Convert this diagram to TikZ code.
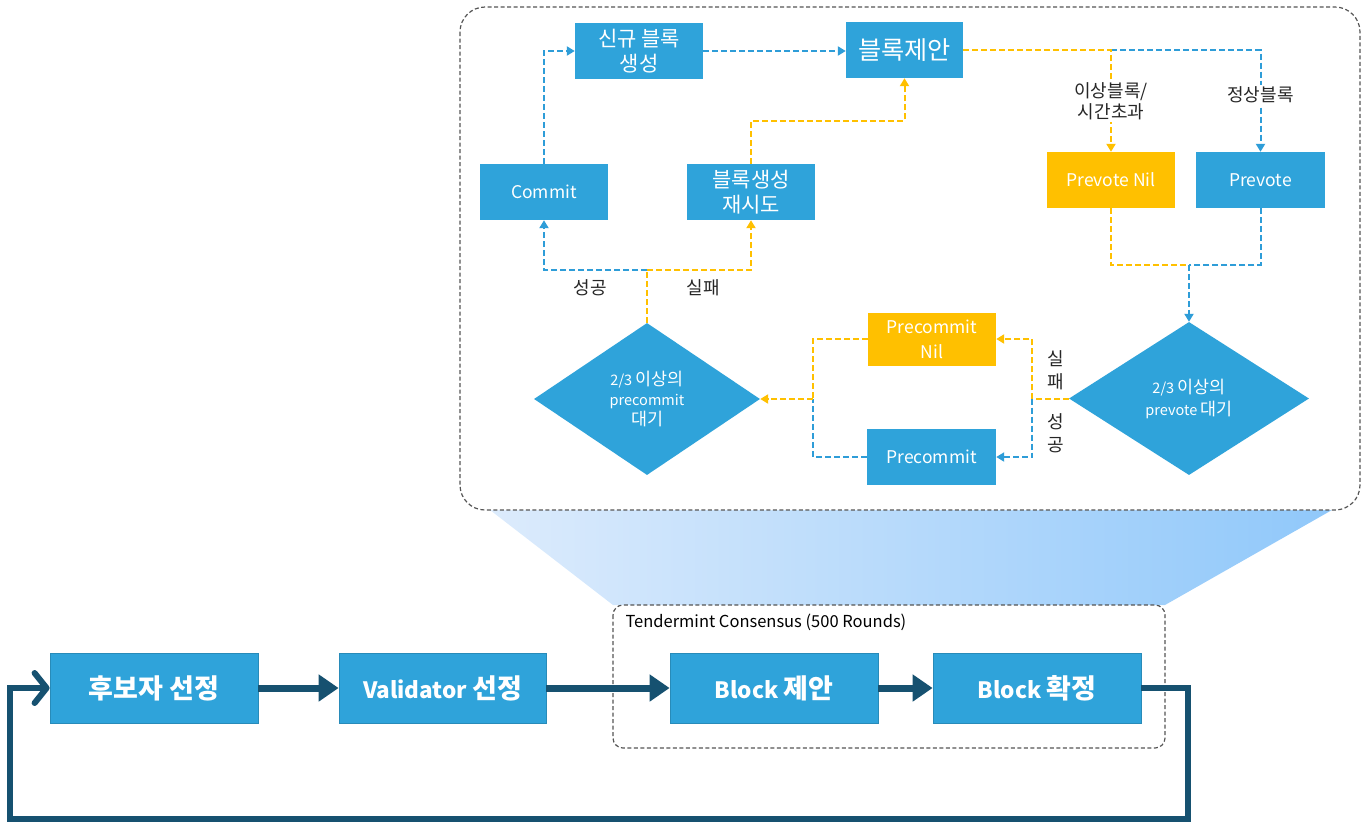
\documentclass[tikz,border=0pt]{standalone}
\usepackage{fontspec}
\setmainfont{Noto Sans CJK KR}
\newfontfamily\krf[Scale=1.2]{Noto Sans CJK KR}
\newcommand\K[1]{{\krf #1}}
\usetikzlibrary{arrows.meta,shapes.geometric,calc}
\definecolor{cblue}{RGB}{47,163,218}
\definecolor{cline}{RGB}{46,157,216}
\definecolor{cyel}{RGB}{255,192,0}
\definecolor{cdark}{RGB}{22,81,112}
\definecolor{cgray}{RGB}{85,85,85}
\definecolor{fanL}{RGB}{220,235,252}
\definecolor{fanR}{RGB}{144,200,250}
\tikzset{
  box/.style={fill=cblue, text=white, minimum width=128pt, minimum height=56pt, inner sep=0pt, align=center, font=\fontsize{17.5}{25}\selectfont},
  ybox/.style={box, fill=cyel},
  bigbox/.style={fill=cblue, draw=cblue!85!black, line width=0.8pt, text=white, minimum width=208pt, minimum height=70pt, inner sep=0pt, align=center, font=\bfseries\fontsize{22.5}{26}\selectfont},
  dia/.style={diamond, fill=cblue, text=white, inner sep=0pt, align=center, font=\fontsize{14.5}{20}\selectfont},
  lab/.style={fill=white, text=black!85, inner sep=2pt, align=center, font=\fontsize{15}{21}\selectfont},
  flowline/.style={line width=2pt, dash pattern=on 6pt off 3pt},
  bline/.style={flowline, draw=cline},
  yline/.style={flowline, draw=cyel},
  bflow/.style={bline, -{Triangle[length=8pt,width=9pt]}},
  yflow/.style={yline, -{Triangle[length=8pt,width=9pt]}},
  thick arrow/.style={draw=cdark, line width=7pt, -{Triangle[length=20pt,width=26pt]}},
  loopline/.style={draw=cdark, line width=6pt, line join=miter, -{Straight Barb[length=12pt,width=30pt,round]}},
  frame/.style={draw=cgray, line width=1.2pt, dash pattern=on 4pt off 2.5pt},
}
\begin{document}
\begin{tikzpicture}[x=1pt,y=-1pt]
\useasboundingbox (0,0) rectangle (1362,823);

% fan
\shade[left color=fanL, right color=fanR] (490,510) -- (1332,510) -- (1165,605) -- (613,605) -- cycle;

% frames
\draw[frame, rounded corners=25pt, fill=white] (460,7) rectangle (1360,510);
\draw[frame, rounded corners=10pt] (613,605) rectangle (1165,748);
\node[anchor=west, font=\fontsize{16.5}{19}\selectfont, text=black] (tlabel) at (622,622) {Tendermint Consensus (500 Rounds)};

% top nodes
\node[box] (newb) at (639,51) {\K{신규 블록}\\\K{생성}};
\node[box, minimum width=117pt, font=\fontsize{21}{25}\selectfont] (prop) at (904.5,50) {\K{블록제안}};
\node[box] (commit) at (544,192) {Commit};
\node[box] (retry) at (751,192) {\K{블록생성}\\\K{재시도}};
\node[ybox] (pnil) at (1111,180) {Prevote Nil};
\node[box, minimum width=129pt] (pv) at (1260.5,180) {Prevote};
\node[ybox, minimum height=53pt] (pcnil) at (932,339) {Precommit\\Nil};
\node[box, minimum width=129pt] (pc) at (931.5,457) {Precommit};
\node[dia, minimum width=226pt, minimum height=152pt] (dpc) at (647,399) {2/3 \K{이상의}\\precommit\\\K{대기}};
\node[dia, minimum width=240pt, minimum height=153pt, font=\fontsize{14.5}{22}\selectfont] (dpv) at (1189,398.5) {2/3 \K{이상의}\\prevote \K{대기}};

% top connectors
\draw[bflow] (commit.north) |- (newb.west);
\draw[bflow] (newb.east) -- (newb.east -| prop.west);
\coordinate (ry) at (0,121);
\draw[yflow] (retry.north) -- (retry.north |- ry) -| (prop.south);
\draw[bflow] (pnil.north |- prop.east) -| node[lab, pos=0.72] (l2) {\K{정상블록}} (pv.north);
\draw[yflow] (prop.east) -| node[lab, pos=0.75] (l1) {\K{이상블록/}\\\K{시간초과}} (pnil.north);

\coordinate (m1) at (1189,265);
\draw[yline] (pnil.south) |- (m1);
\draw[bline] (pv.south) |- (m1);
\draw[bflow] (m1) -- (dpv.north);

\coordinate (s1) at (1032,398.5);
\draw[yflow] (dpv.west) -- (s1) |- (pcnil.east);
\draw[bflow] (s1) |- (pc.east);
\node[lab, fill=none, font=\fontsize{15}{23}\selectfont] (l3) at (1056,370) {\K{실}\\\K{패}};
\node[lab, fill=none, font=\fontsize{15}{23}\selectfont] (l4) at (1056,433) {\K{성}\\\K{공}};

\coordinate (s2) at (813,399);
\draw[bline] (pc.west) -| (s2);
\draw[yline] (pcnil.west) -| (s2);
\draw[yflow] (s2) -- (dpc.east);

\coordinate (s3) at (647,270);
\draw[yline] (dpc.north) -- (s3);
\draw[bflow] (s3) -| (commit.south);
\draw[yflow] (s3) -| (retry.south);
\node[lab, fill=none] (l5) at (590,288) {\K{성공}};
\node[lab, fill=none] (l6) at (703,288) {\K{실패}};

% bottom row
\node[bigbox] (n1) at (154,688) {\K{후보자 선정}};
\node[bigbox, minimum width=207pt] (n2) at (442.5,688) {Validator \K{선정}};
\node[bigbox] (n3) at (774,688) {Block \K{제안}};
\node[bigbox] (n4) at (1037,688) {Block \K{확정}};

\draw[thick arrow] (n1.east) -- (n2.west);
\draw[thick arrow] (n2.east) -- (n3.west);
\draw[thick arrow] (n3.east) -- (n4.west);
\coordinate (c1) at (1188,819);
\coordinate (c2) at (10,819);
\draw[loopline] (n4.east) -| (c1) -- (c2) |- (n1.west);
\end{tikzpicture}
\end{document}
